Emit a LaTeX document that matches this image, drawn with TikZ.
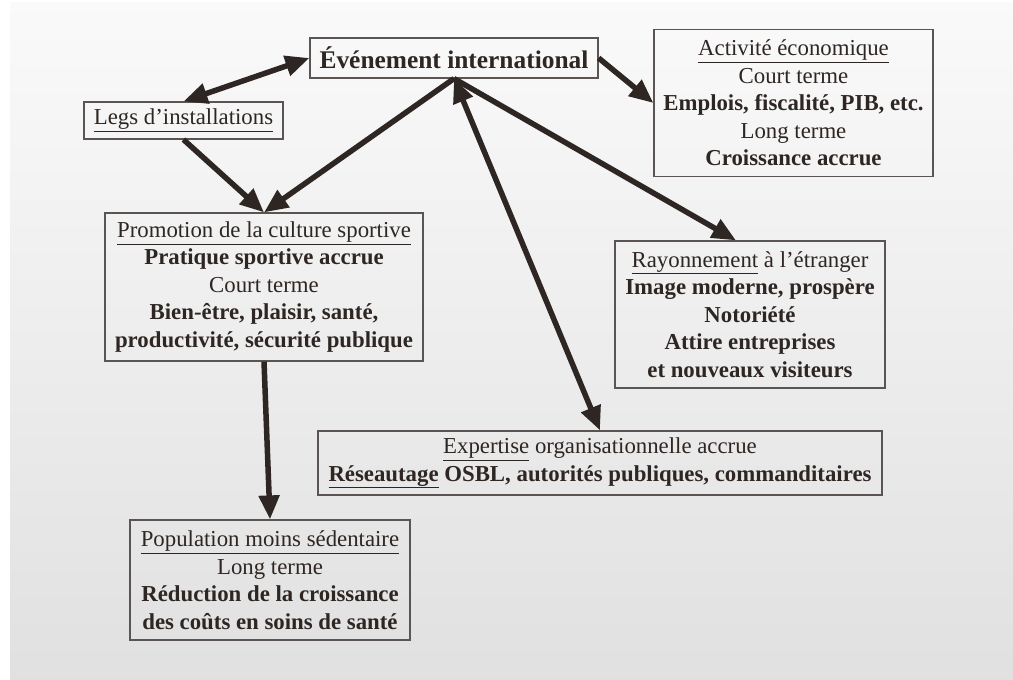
\documentclass[tikz,border=0pt]{standalone}
\usepackage{fontspec}
\setmainfont{Liberation Serif}
\usetikzlibrary{arrows.meta}
\definecolor{inkbrown}{HTML}{2E2622}
\definecolor{framegray}{HTML}{5A5552}

\begin{document}
\begin{tikzpicture}
[x=1pt, y=-1pt,
  boxdecorate/.style={draw=framegray, line width=1.2pt, inner sep=0pt,
    align=center, text=inkbrown, font={\fontsize{22.8}{27.5}\selectfont}},%
  linedecorate/.style={-{Triangle[length=24pt,width=20pt]}, line width=5.5pt,
    draw=inkbrown},%
  bothdecorate/.style={{Triangle[length=24pt,width=20pt]}-{Triangle[length=24pt,width=20pt]},
    line width=5.5pt, draw=inkbrown}]
%% background
\useasboundingbox (0,0) rectangle (1013,680);
\fill[white] (0,0) rectangle (1013,680);
\shade[top color=white!98!black, bottom color=white!88!black]
  (10,2) rectangle (1013,680);
%% nodes or boxes
\node (evt) at (454,58) [boxdecorate, minimum width=288pt, minimum height=40pt,
  font={\fontsize{25.4}{30}\selectfont\bfseries}] {Événement international};
\node (eco) at (793.5,103) [boxdecorate, minimum width=279pt, minimum height=147.5pt]
  {\underline{Activité économique}\\ Court terme\\
   \textbf{Emplois, fiscalité, PIB, etc.}\\ Long terme\\
   \textbf{Croissance accrue}};
\node (legs) at (183.5,120.5) [boxdecorate, minimum width=199pt, minimum height=37pt]
  {\underline{Legs d’installations}};
\node (promo) at (264,287) [boxdecorate, minimum width=318pt, minimum height=148pt]
  {\underline{Promotion de la culture sportive}\\
   \textbf{Pratique sportive accrue}\\ Court terme\\
   \textbf{Bien-être, plaisir, santé,}\\
   \textbf{productivité, sécurité publique}};
\node (ray) at (750,314.5) [boxdecorate, minimum width=270pt, minimum height=147pt]
  {\underline{Rayonnement} à l’étranger\\
   \textbf{Image moderne, prospère}\\ \textbf{Notoriété}\\
   \textbf{Attire entreprises}\\ \textbf{et nouveaux visiteurs}};
\node (expert) at (600,463) [boxdecorate, minimum width=564pt, minimum height=64pt]
  {\underline{Expertise} organisationnelle accrue\\
   \textbf{\underline{Réseautage} OSBL, autorités publiques, commanditaires}};
\node (pop) at (270,580) [boxdecorate, minimum width=280pt, minimum height=120pt]
  {\underline{Population moins sédentaire}\\ Long terme\\
   \textbf{Réduction de la croissance}\\
   \textbf{des coûts en soins de santé}};
\coordinate (raytop) at ([xshift=-14pt]ray.north);
%% edges or arrows
\path
\foreach \startnode/\endnode in {evt.east/eco.west, evt.south/promo.north,
  legs.south/promo.north, evt.south/raytop, promo.south/pop.north} {
  (\startnode) edge[linedecorate] (\endnode)
};
\path
\foreach \startnode/\endnode in {legs.north/evt.west, expert.north/evt.south} {
  (\startnode) edge[bothdecorate] (\endnode)
};
\end{tikzpicture}
\end{document}
